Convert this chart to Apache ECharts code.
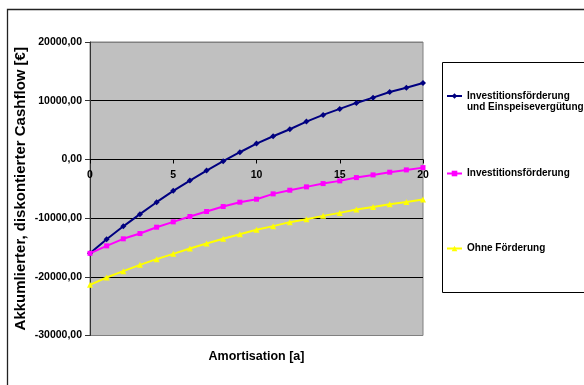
<!DOCTYPE html>
<html>
<head>
<meta charset="utf-8">
<script src="https://cdn.jsdelivr.net/npm/echarts@6/dist/echarts.min.js"></script>
<style>
html,body{margin:0;padding:0;background:#fff;}
#chart{width:584px;height:385px;}
</style>
</head>
<body>
<div id="chart"></div>
<script>
const years = [0,1,2,3,4,5,6,7,8,9,10,11,12,13,14,15,16,17,18,19,20];
const seriesNames = ['Investitionsförderung\nund Einspeisevergütung', 'Investitionsförderung', 'Ohne Förderung'];
const invEinspeise = [-16000,-13600,-11400,-9330,-7290,-5360,-3600,-1900,-310,1220,2690,3950,5140,6440,7580,8600,9620,10520,11490,12220,13020];
const investition = [-16000,-14730,-13530,-12630,-11550,-10640,-9730,-8880,-8030,-7290,-6780,-5870,-5250,-4680,-4120,-3660,-3100,-2640,-2180,-1790,-1400];
const ohne = [-21370,-20120,-19040,-17960,-16990,-16090,-15180,-14330,-13530,-12740,-12000,-11370,-10690,-10180,-9620,-9110,-8550,-8090,-7630,-7240,-6840];
const xTicks = [0,5,10,15,20];
const yTicks = [-30000,-20000,-10000,0,10000,20000];

const FONT = 'Liberation Sans, Arial, sans-serif';
function pairs(arr){ return years.map((x,i)=>[x,arr[i]]); }

const chart = echarts.init(document.getElementById('chart'), null, {renderer:'canvas'});
const legendBase = {
  orient:'vertical', left:446, padding:0, itemWidth:15, itemHeight:7, itemGap:0,
  selectedMode:false,
  textStyle:{fontFamily:FONT, fontWeight:'bold', fontSize:10, color:'#000', lineHeight:11}
};
chart.setOption({
  animation:false,
  backgroundColor:'#fff',
  graphic:[
    {type:'rect', shape:{x:7.5, y:9.5, width:640, height:420}, style:{fill:'none', stroke:'#222', lineWidth:1.3}, z:-10},
    {type:'rect', shape:{x:442.5, y:62.5, width:200, height:230}, style:{fill:'#fff', stroke:'#000', lineWidth:1}, z:-5}
  ],
  grid:{left:90, right:161, top:42, bottom:49.5, show:true, backgroundColor:'#C0C0C0', borderColor:'#808080', borderWidth:1,
    outerBoundsMode:'none', containLabel:false},
  legend:[
    Object.assign({}, legendBase, {top:79.5, data:[seriesNames[0]], formatter:name=>' \n'+name}),
    Object.assign({}, legendBase, {top:168, data:[seriesNames[1]]}),
    Object.assign({}, legendBase, {top:243, data:[seriesNames[2]]})
  ],
  xAxis:{
    type:'value', min:xTicks[0], max:xTicks[xTicks.length-1], interval:5,
    offset:-176,
    name:'Amortisation [a]', nameLocation:'middle', nameGap:191, nameMoveOverlap:false,
    nameTextStyle:{fontFamily:FONT, fontWeight:'bold', fontSize:12.5, color:'#000'},
    axisLine:{onZero:false, lineStyle:{color:'#000', width:1}},
    axisTick:{show:true, inside:false, length:4, lineStyle:{color:'#000'}},
    axisLabel:{fontFamily:FONT, fontWeight:'bold', fontSize:10.5, color:'#000', margin:10},
    splitLine:{show:false}
  },
  yAxis:{
    type:'value', min:yTicks[0], max:yTicks[yTicks.length-1], interval:10000,
    name:'Akkumlierter, diskontierter Cashflow [€]', nameLocation:'middle', nameGap:62, nameMoveOverlap:false,
    nameTextStyle:{fontFamily:FONT, fontWeight:'bold', fontSize:15, color:'#000'},
    axisLine:{show:true, onZero:false, lineStyle:{color:'#333', width:1}},
    axisTick:{show:true, length:5, lineStyle:{color:'#333'}},
    axisLabel:{fontFamily:FONT, fontWeight:'bold', fontSize:10.5, color:'#000', margin:8,
      formatter:v=>v.toFixed(2).replace('.',',')},
    splitLine:{show:true, lineStyle:{color:['#808080','#000','#000','#000','#000','#808080'], width:1}}
  },
  series:[
    {name:seriesNames[0], type:'line', data:pairs(invEinspeise), color:'#000080',
     lineStyle:{width:2}, symbol:'diamond', symbolSize:6, itemStyle:{color:'#000080'}},
    {name:seriesNames[1], type:'line', data:pairs(investition), color:'#FF00FF',
     lineStyle:{width:2}, symbol:'rect', symbolSize:5, itemStyle:{color:'#FF00FF'}},
    {name:seriesNames[2], type:'line', data:pairs(ohne), color:'#FFFF00',
     lineStyle:{width:2}, symbol:'triangle', symbolSize:6, itemStyle:{color:'#FFFF00'}}
  ]
});
</script>
</body>
</html>
